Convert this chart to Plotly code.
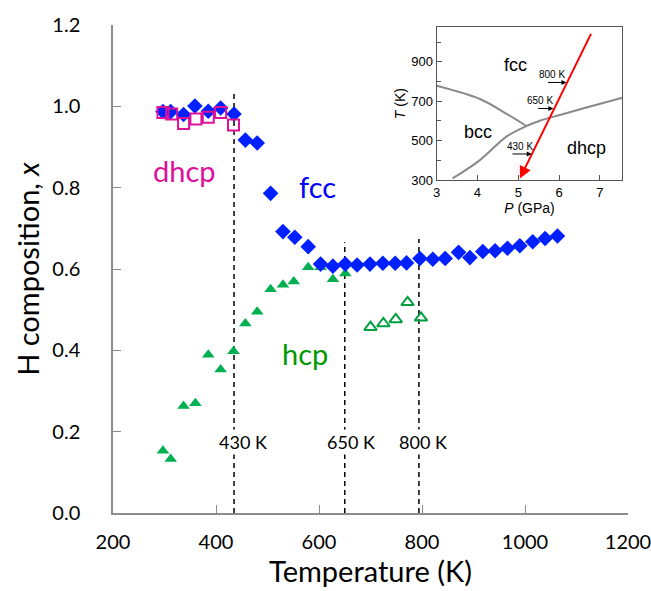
import plotly.graph_objects as go

# ---- main data ----
fcc_T = [297, 312, 337, 359, 385, 409, 435, 457, 480, 506, 530, 553, 579, 603, 627, 651, 674,
         699, 724, 748, 770, 796, 821, 845, 871, 893, 918, 942, 966, 990, 1015, 1039, 1063]
fcc_x = [0.987, 0.987, 0.980, 1.001, 0.988, 0.996, 0.981, 0.917, 0.910, 0.786, 0.692, 0.678, 0.655,
         0.612, 0.607, 0.612, 0.610, 0.612, 0.614, 0.614, 0.615, 0.626, 0.624, 0.626, 0.641, 0.628,
         0.643, 0.645, 0.651, 0.657, 0.667, 0.675, 0.681]

dhcp_T = [297, 314, 337, 361, 385, 409, 434]
dhcp_x = [0.985, 0.981, 0.958, 0.969, 0.973, 0.985, 0.954]

hcp_T = [297, 312, 337, 360, 385, 409, 434, 457, 480, 506, 530, 551, 579, 603, 627, 651]
hcp_x = [0.153, 0.133, 0.263, 0.270, 0.389, 0.353, 0.398, 0.466, 0.495, 0.550, 0.561, 0.569,
         0.604, 0.604, 0.575, 0.589]

hcp2_T = [700, 725, 749, 772, 798]
hcp2_x = [0.457, 0.466, 0.476, 0.518, 0.480]

vline_T = [435, 650, 794]
vline_top = [1.033, 0.666, 0.674]
vline_labels = ["430 K", "650 K", "800 K"]
vline_label_T = [453, 662, 802]

x_ticks = [200, 400, 600, 800, 1000, 1200]
y_ticks = [0.0, 0.2, 0.4, 0.6, 0.8, 1.0, 1.2]

# ---- inset data ----
b1_P = [3.0, 4.06, 4.63, 5.2]
b1_T = [778, 711, 646, 574]
b2_P = [3.39, 4.06, 4.71, 5.2, 5.53, 6.02, 6.67, 7.55]
b2_T = [308, 401, 520, 574, 601, 630, 668, 717]
red_P = [6.8, 5.04]
red_T = [1049, 308]
arr_P0 = [4.82, 5.45, 5.69]
arr_P1 = [5.33, 5.86, 6.18]
arr_T = [432, 663, 795]
arr_labels = ["430 K", "650 K", "800 K"]
arr_label_P = [5.04, 5.53, 5.82]
phase_labels = ["fcc", "bcc", "dhcp"]
phase_P = [4.92, 4.02, 6.66]
phase_T = [886, 545, 464]

MAIN_FONT = "Lato"
INS_FONT = "Liberation Sans"

fig = go.Figure()

# dashed lines
for T, top in zip(vline_T, vline_top):
    fig.add_trace(go.Scatter(x=[T, T], y=[0, top], mode="lines",
                             line=dict(color="black", width=1.5, dash="5px,4px"),
                             hoverinfo="skip", showlegend=False))

fig.add_trace(go.Scatter(x=hcp_T, y=hcp_x, mode="markers",
                         marker=dict(symbol="triangle-up", size=11, color="#00b050"),
                         showlegend=False))
fig.add_trace(go.Scatter(x=hcp2_T, y=hcp2_x, mode="markers",
                         marker=dict(symbol="triangle-up-open", size=11, color="#00a040",
                                     line=dict(width=2, color="#00a040")),
                         showlegend=False))
fig.add_trace(go.Scatter(x=fcc_T, y=fcc_x, mode="markers",
                         marker=dict(symbol="diamond", size=12, color="#0020ff"),
                         showlegend=False))
fig.add_trace(go.Scatter(x=dhcp_T, y=dhcp_x, mode="markers",
                         marker=dict(symbol="square-open", size=11, color="#dd1199",
                                     line=dict(width=2, color="#dd1199")),
                         showlegend=False))

# inset traces
fig.add_trace(go.Scatter(x=b1_P, y=b1_T, mode="lines", xaxis="x2", yaxis="y2",
                         line=dict(color="#8a8a8a", width=2, shape="spline"), showlegend=False))
fig.add_trace(go.Scatter(x=b2_P, y=b2_T, mode="lines", xaxis="x2", yaxis="y2",
                         line=dict(color="#8a8a8a", width=2, shape="spline"), showlegend=False))

annotations = []
for T, lab in zip(vline_label_T, vline_labels):
    annotations.append(dict(x=T, y=0.175, xref="x", yref="y", text=lab, showarrow=False,
                            font=dict(family=MAIN_FONT, size=18, color="black"),
                            bgcolor="white", xanchor="center", yanchor="middle"))
annotations += [
    dict(x=338, y=0.843, xref="x", yref="y", text="dhcp", showarrow=False,
         font=dict(family=MAIN_FONT, size=29, color="#dd1199")),
    dict(x=598, y=0.804, xref="x", yref="y", text="fcc", showarrow=False,
         font=dict(family=MAIN_FONT, size=29, color="#0000ff")),
    dict(x=573, y=0.393, xref="x", yref="y", text="hcp", showarrow=False,
         font=dict(family=MAIN_FONT, size=29, color="#009900")),
]

# inset red arrow
annotations.append(dict(x=red_P[1], y=red_T[1], ax=red_P[0], ay=red_T[0],
                        xref="x2", yref="y2", axref="x2", ayref="y2", text="",
                        showarrow=True, arrowhead=2, arrowsize=1.2, arrowwidth=2,
                        arrowcolor="#ff0000"))
for p0, p1, T, lp, lab in zip(arr_P0, arr_P1, arr_T, arr_label_P, arr_labels):
    annotations.append(dict(x=p1, y=T, ax=p0, ay=T, xref="x2", yref="y2", axref="x2", ayref="y2",
                            text="", showarrow=True, arrowhead=2, arrowsize=1, arrowwidth=1,
                            arrowcolor="black"))
    annotations.append(dict(x=lp, y=T + 40, xref="x2", yref="y2", text=lab,
                            showarrow=False, font=dict(family=INS_FONT, size=10, color="black")))
for lab, P, T in zip(phase_labels, phase_P, phase_T):
    annotations.append(dict(x=P, y=T, xref="x2", yref="y2", text=lab, showarrow=False,
                            font=dict(family=INS_FONT, size=18, color="black")))

fig.update_layout(
    width=651, height=591,
    margin=dict(l=113, r=23, t=25, b=78),
    paper_bgcolor="white", plot_bgcolor="white",
    font=dict(family=MAIN_FONT, color="black"),
    xaxis=dict(range=[200, 1200], tickvals=x_ticks, ticks="inside", ticklen=8,
               tickcolor="#8c8c8c", showline=True, linecolor="#8c8c8c", linewidth=1.5,
               showgrid=False, zeroline=False, ticklabelstandoff=10, automargin=False,
               ticklabeloverflow="allow",
               tickfont=dict(family=MAIN_FONT, size=20, color="black"),
               title=dict(text="Temperature (K)", font=dict(family=MAIN_FONT, size=29),
                          standoff=3)),
    yaxis=dict(range=[0, 1.2], tickvals=y_ticks, tickformat=".1f", ticks="inside", ticklen=8,
               tickcolor="#8c8c8c", showline=True, linecolor="#8c8c8c", linewidth=1.5,
               showgrid=False, zeroline=False, ticklabelstandoff=27, automargin=False,
               tickfont=dict(family=MAIN_FONT, size=20, color="black"),
               title=dict(text="H composition, <i>x</i>", font=dict(family=MAIN_FONT, size=29),
                          standoff=4)),
    xaxis2=dict(domain=[0.6285, 0.989], anchor="y2", range=[3, 7.55], tickvals=[3, 4, 5, 6, 7],
                ticks="inside", ticklen=5, tickcolor="#555", showline=True, mirror=True,
                linecolor="#555", linewidth=1, showgrid=False, zeroline=False, automargin=False,
                tickfont=dict(family=INS_FONT, size=13, color="black"),
                title=dict(text="<i>P</i> (GPa)", font=dict(family=INS_FONT, size=14), standoff=0)),
    yaxis2=dict(domain=[0.6824, 0.9953], anchor="x2", range=[300, 1075],
                tickvals=[300, 500, 700, 900], ticks="inside", ticklen=5, tickcolor="#555",
                minor=dict(tickvals=[400, 600, 800, 1000], ticks="inside", ticklen=4,
                           tickcolor="#555"),
                showline=True, mirror=True, linecolor="#555", linewidth=1, showgrid=False,
                zeroline=False, automargin=False,
                tickfont=dict(family=INS_FONT, size=13, color="black"),
                title=dict(text="<i>T</i> (K)", font=dict(family=INS_FONT, size=14), standoff=2)),
    annotations=annotations,
)

fig.write_html("out.html", config={"displayModeBar": False},
               post_script="document.body.style.margin='0';")
